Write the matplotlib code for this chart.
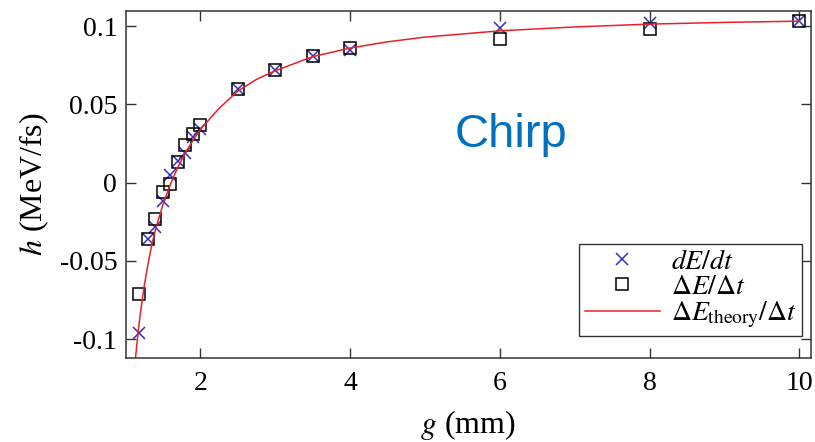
import matplotlib
matplotlib.use("Agg")
import matplotlib.pyplot as plt

# measured points, g in mm, h in MeV/fs
g = [1.18, 1.30, 1.40, 1.50, 1.60, 1.70, 1.80, 1.90, 2.0, 2.5, 3.0, 3.5, 4.0, 6.0, 8.0, 10.0]
h_deriv = [-0.096, -0.036, -0.028, -0.012, 0.005, 0.014, 0.019, 0.029, 0.034,
           0.060, 0.072, 0.081, 0.085, 0.099, 0.102, 0.103]
h_ratio = [-0.071, -0.036, -0.023, -0.006, -0.001, 0.013, 0.024, 0.031, 0.037,
           0.060, 0.072, 0.081, 0.086, 0.092, 0.098, 0.103]

# theory curve
g_theory = [1.13, 1.15, 1.175, 1.2, 1.25, 1.3, 1.35, 1.4, 1.5, 1.6, 1.7, 1.8, 1.9,
            2.0, 2.25, 2.5, 2.75, 3.0, 3.5, 4.0, 4.5, 5.0, 6.0, 7.0, 8.0, 9.0, 10.0]
h_theory = [-0.114, -0.104, -0.093, -0.083, -0.066, -0.052, -0.040, -0.030, -0.014,
            -0.001, 0.010, 0.019, 0.027, 0.034, 0.0475, 0.0585, 0.066, 0.0715,
            0.0805, 0.086, 0.090, 0.093, 0.097, 0.0995, 0.1013, 0.1024, 0.1032]

xticks = [2, 4, 6, 8, 10]
yticks = [-0.1, -0.05, 0, 0.05, 0.1]
yticklabels = ["-0.1", "-0.05", "0", "0.05", "0.1"]

plt.rcParams["font.family"] = ["Liberation Serif", "DejaVu Serif"]
plt.rcParams["mathtext.fontset"] = "stix"
plt.rcParams["axes.unicode_minus"] = False

fig = plt.figure(figsize=(8.15, 4.42), dpi=100)
ax = fig.add_axes([125.5 / 815, 1 - 358 / 442, (810.5 - 125.5) / 815, (358 - 10.5) / 442])

ax.plot(g, h_deriv, "x", color="#3030c0", ms=9, mew=1.1, label=r"$dE/dt$")
ax.plot(g, h_ratio, "s", mfc="none", mec="black", ms=9, mew=1.1, label=r"$\Delta E/\Delta t$")
ax.plot(g_theory, h_theory, "-", color="#e8202a", lw=1.1,
        label=r"$\Delta E_{\rm theory}/\Delta t$")

ax.set_xlim(1.0, 10.15)
ax.set_ylim(-0.112, 0.110)
ax.set_xticks(xticks)
ax.set_yticks(yticks)
ax.set_yticklabels(yticklabels)
ax.tick_params(direction="in", length=7, width=1, top=True, right=True,
               labelsize=20, color="#333333")
ax.tick_params(axis="x", pad=9)
ax.tick_params(axis="y", pad=6)
for s in ax.spines.values():
    s.set_color("#333333")
    s.set_linewidth(1.1)

ax.set_xlabel(r"$g$ (mm)", fontsize=23, labelpad=9)
ax.set_ylabel(r"$h$ (MeV/fs)", fontsize=23, labelpad=6)

leg = ax.legend(loc="lower right", bbox_to_anchor=(802 / 815, 1 - 336 / 442),
                bbox_transform=fig.transFigure, fontsize=20, fancybox=False,
                framealpha=1, edgecolor="#333333", borderpad=0.2, labelspacing=0.0,
                handlelength=2.7, handletextpad=0.4, borderaxespad=0)
leg.get_frame().set_linewidth(1.0)

fig.text(511 / 815, 1 - 146.7 / 442, "Chirp", color="#0070C0", fontsize=34,
         family="Liberation Sans", ha="center", va="baseline")

fig.savefig("out.png", dpi=100)
